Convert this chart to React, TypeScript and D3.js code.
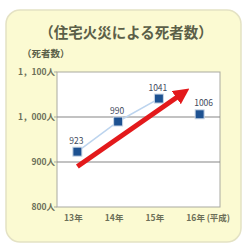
import * as d3 from 'd3';

const W = 245;
const H = 246;

const years = ['13年', '14年', '15年', '16年'];
const deaths = [923, 990, 1041, 1006];
const yTicks = [800, 900, 1000, 1100];
const yTickLabels = ['800人', '900人', '1，000人', '1，100人'];
const gridValues = [900, 1000];
const eraLabel = '(平成)';
// trend arrow: [category index, value]
const arrowFrom = [0, 890];
const arrowTo = [2.62, 1055];

const [left, right, top, bottom] = [57, 220, 72, 207];

export default function App() {
    const x = d3.scalePoint<string>().domain(years).range([left, right]).padding(0.5);
    const xi = d3
        .scaleLinear()
        .domain([0, years.length - 1])
        .range([x(years[0]) as number, x(years[years.length - 1]) as number]);
    const y = d3.scaleLinear().domain([800, 1100]).range([bottom, top]);

    const line = d3
        .line<number>()
        .x((_d, i) => x(years[i]) as number)
        .y((d) => y(d));

    const ax1 = xi(arrowFrom[0]);
    const ay1 = y(arrowFrom[1]);
    const ax2 = xi(arrowTo[0]);
    const ay2 = y(arrowTo[1]);

    const textCol = '#5b5f48';
    const lastX = x(years[years.length - 1]) as number;

    return (
        <svg width={W} height={H} style={{ position: 'absolute', left: 0, top: 0 }} fontFamily="'Noto Sans CJK JP', sans-serif">
            <defs>
                <marker id="head" viewBox="0 0 10 10" refX="6" refY="5" markerWidth="3.2" markerHeight="3.2" orient="auto">
                    <path d="M0,0 L10,5 L0,10 z" fill="#e3191b" />
                </marker>
            </defs>
            <rect width={W} height={H} fill="#ffffff" />
            <rect x={6} y={10} width={235} height={232} rx={14} fill="#fbfad2" stroke="#e4e2c4" strokeWidth={1.5} />

            <text x={126} y={38} textAnchor="middle" fontSize={14.5} fontWeight="bold" fill={textCol}>
                （住宅火災による死者数）
            </text>
            <text x={22} y={57} fontSize={9.5} fontWeight="bold" fill={textCol}>
                （死者数）
            </text>

            <rect x={left} y={top} width={right - left} height={bottom - top} fill="#ffffff" stroke="#a9a9a0" strokeWidth={1} />

            {gridValues.map((v) => (
                <line key={v} x1={left} x2={right} y1={y(v)} y2={y(v)} stroke="#858585" strokeWidth={1} />
            ))}

            {yTicks.map((v, i) => (
                <g key={v}>
                    <line x1={left - 3} x2={left} y1={y(v)} y2={y(v)} stroke="#a9a9a0" />
                    <text x={left - 2} y={y(v) + 3} textAnchor="end" fontSize={8.5} fontWeight="bold" fill="#6c6f58">
                        {yTickLabels[i]}
                    </text>
                </g>
            ))}

            {years.map((yr) => (
                <text key={yr} x={(x(yr) as number) - 4} y={221} textAnchor="middle" fontSize={8.5} fontWeight="bold" fill="#6c6f58">
                    {yr}
                </text>
            ))}
            <text x={lastX + 7} y={221} fontSize={8.5} fontWeight="bold" fill="#6c6f58">
                {eraLabel}
            </text>

            <path d={line(deaths.slice(0, 3)) ?? ''} fill="none" stroke="#bcd4ee" strokeWidth={1.5} />

            {deaths.map((d, i) => (
                <rect
                    key={i}
                    x={(x(years[i]) as number) - 4.5}
                    y={y(d) - 4.5}
                    width={9}
                    height={9}
                    fill="#1d5191"
                    stroke="#c9d6e6"
                    strokeWidth={1}
                />
            ))}

            <line x1={ax1} y1={ay1} x2={ax2} y2={ay2} stroke="#e3191b" strokeWidth={5} markerEnd="url(#head)" />

            {deaths.map((d, i) => (
                <text
                    key={i}
                    x={(x(years[i]) as number) + (i === 3 ? 4 : -1)}
                    y={y(d) - 8}
                    textAnchor="middle"
                    fontSize={8.5}
                    fill="#3f4a5c"
                    stroke="#ffffff"
                    strokeWidth={2.5}
                    paintOrder="stroke"
                >
                    {d}
                </text>
            ))}
        </svg>
    );
}
